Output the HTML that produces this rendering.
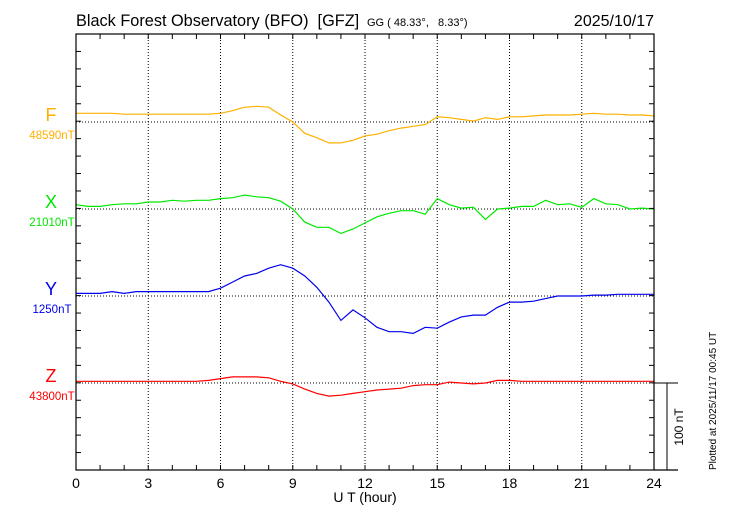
<!DOCTYPE html>
<html><head><meta charset="utf-8"><style>
body{margin:0;background:#fff}
svg text{font-family:"Liberation Sans",sans-serif}
</style></head><body>
<svg id="c" width="730" height="520" viewBox="0 0 730 520" xmlns="http://www.w3.org/2000/svg">
<rect width="730" height="520" fill="#fff"/>
<text x="76" y="26" font-size="16.3">Black Forest Observatory (BFO)&#160;&#160;[GFZ]</text>
<text x="367" y="26" font-size="11">GG ( 48.33°,&#160;&#160;&#160;8.33°)</text>
<text x="654" y="26" font-size="16" text-anchor="end">2025/10/17</text>
<text x="365" y="502" font-size="14" text-anchor="middle">U T (hour)</text>
<text transform="translate(716,470) rotate(-90)" font-size="10">Plotted at 2025/11/17 00:45 UT</text>
<g id="grid"></g><g id="series"></g><g id="axes"></g>
</svg>
<script>
const hours=[];for(let i=0;i<=48;i++)hours.push(i*0.5);
const xTicks=[0,3,6,9,12,15,18,21,24];
const compNames=["F","X","Y","Z"];
const compBase=["48590nT","21010nT","1250nT","43800nT"];
const fVals=[10,10,10,10,9,9,9,9,9,9,9,9,10,13,17,18,17,8,0,-13,-18,-24,-24,-21,-16,-14,-10,-7,-5,-3,6,5,3,1,5,3,6,6,7,8,8,8,9,10,9,9,8,8,7];
const xVals=[5,3,3,5,6,6,8,8,10,9,10,10,12,13,16,14,13,9,0,-15,-21,-21,-28,-23,-16,-9,-5,-2,-2,-6,12,5,1,2,-12,0,1,3,3,10,5,6,2,12,6,5,0,1,0];
const yVals=[3,3,3,5,3,5,5,5,5,5,5,5,9,16,23,26,32,36,32,23,10,-7,-28,-16,-25,-36,-41,-41,-43,-36,-37,-30,-24,-22,-22,-13,-7,-7,-6,-3,0,0,0,1,1,2,2,2,2];
const zVals=[2,2,2,2,2,2,2,2,2,2,2,3,5,7,7,7,6,2,-1,-7,-12,-15,-14,-12,-10,-8,-7,-6,-3,-2,-2,1,0,-1,0,3,3,2,2,2,2,2,2,2,2,2,2,2,2];
const series=[fVals,xVals,yVals,zVals];
const colors=["#ffb000","#00e800","#0000ee","#ff0000"];
const L=76,R=654,T=34,B=470,bases=[122,209,296,383],pxPerNT=87/100;
const sx=h=>L+(h/24)*(R-L);
const sy=(i,v)=>bases[i]-v*pxPerNT;
const NS="http://www.w3.org/2000/svg";
function mk(p,tag,a){const e=document.createElementNS(NS,tag);for(const k in a)e.setAttribute(k,a[k]);p.appendChild(e);return e;}
const grid=document.getElementById('grid'),ser=document.getElementById('series'),ax=document.getElementById('axes');
xTicks.forEach(h=>{if(h>0&&h<24){const l=mk(grid,'line',{x1:sx(h),x2:sx(h),y1:T,y2:B,stroke:'#000','stroke-width':1,'stroke-dasharray':'1,2'});

}});
bases.forEach((b,i)=>{const l=mk(grid,'line',{x1:L,x2:R,y1:b,y2:b,stroke:'#000','stroke-width':1,'stroke-dasharray':'1,2'});

});
series.forEach((vals,i)=>{const d=vals.map((v,j)=>(j?'L':'M')+sx(hours[j]).toFixed(1)+','+sy(i,v).toFixed(1)).join(' ');
const p=mk(ser,'path',{d:d,fill:'none',stroke:colors[i],'stroke-width':1.2});


const t=mk(ser,'text',{x:51,y:bases[i]-1,'font-size':18,fill:colors[i],'text-anchor':'middle'});t.textContent=compNames[i];


const t2=mk(ser,'text',{x:52,y:bases[i]+17,'font-size':11.5,fill:colors[i],'text-anchor':'middle'});t2.textContent=compBase[i];

});
const frame=mk(ax,'rect',{x:L,y:T,width:R-L,height:B-T,fill:'none',stroke:'#000','stroke-width':1.2});


mk(ax,'line',{x1:R,x2:678,y1:B,y2:B,stroke:'#000','stroke-width':1.2});
mk(ax,'line',{x1:R,x2:678,y1:383,y2:383,stroke:'#000','stroke-width':1});
const sb=mk(ax,'line',{x1:667,x2:667,y1:383,y2:470,stroke:'#000','stroke-width':1});


const st=mk(ax,'text',{transform:'translate(683,427) rotate(-90)','font-size':12,'text-anchor':'middle'});st.textContent='100 nT';


for(let h=0;h<=24;h++){const x=sx(h);mk(ax,'line',{x1:x,x2:x,y1:B,y2:B-5,stroke:'#000'});mk(ax,'line',{x1:x,x2:x,y1:T,y2:T+5,stroke:'#000'});}
for(let k=0;k<=25;k++){const y=T+k*(B-T)/25;mk(ax,'line',{x1:L,x2:L+5,y1:y,y2:y,stroke:'#000'});mk(ax,'line',{x1:R,x2:R-5,y1:y,y2:y,stroke:'#000'});}
xTicks.forEach(h=>{const t=mk(ax,'text',{x:sx(h),y:488,'font-size':14,'text-anchor':'middle'});t.textContent=h;

});
</script>
</body></html>
